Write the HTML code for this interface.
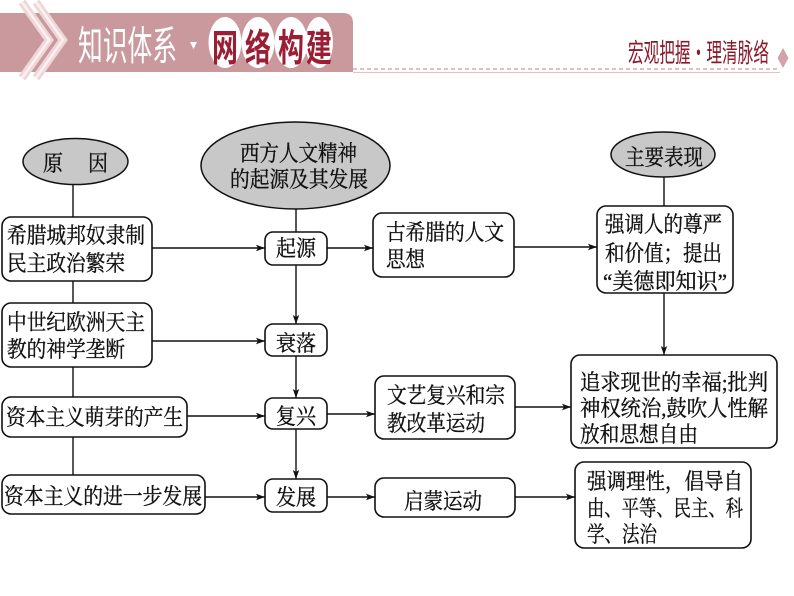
<!DOCTYPE html>
<html><head><meta charset="utf-8"><style>
html,body{margin:0;padding:0;background:#fff;}
svg{display:block;}
.t{font-family:"Liberation Serif","Noto Serif CJK SC",serif;font-size:22px;fill:#111;stroke:#111;stroke-width:0.35;}
</style></head><body>
<svg width="794" height="596" viewBox="0 0 794 596" xmlns="http://www.w3.org/2000/svg">
<defs>
<marker id="ar" markerWidth="10" markerHeight="8" refX="9" refY="4" orient="auto" markerUnits="userSpaceOnUse">
<path d="M0,0.8 L9,4 L0,7.2 L2,4 Z" fill="#111"/>
</marker>
</defs>
<!-- header -->
<path d="M0,13 H343 Q353,13 353,23 V72 H0 Z" fill="#c9999d"/>
<polyline points="22,2 49,40 22,78" fill="none" stroke="#efd6d8" stroke-width="8"/>
<polyline points="22,2 49,40 22,78" fill="none" stroke="#fbf0f0" stroke-width="2.5"/>
<polyline points="36,2 63,40 36,78" fill="none" stroke="#efd6d8" stroke-width="8"/>
<polyline points="36,2 63,40 36,78" fill="none" stroke="#fbf0f0" stroke-width="2.5"/>
<text transform="translate(78,60) scale(1,1.45)" font-family="'Noto Sans CJK SC',sans-serif" font-size="28" fill="#fff" textLength="99" lengthAdjust="spacingAndGlyphs">知识体系</text>
<polygon points="190,42 197,42 193.5,49" fill="#fff"/>
<ellipse cx="225" cy="42.5" rx="16.5" ry="25.5" fill="#fff"/>
<ellipse cx="258" cy="42.5" rx="16.5" ry="25.5" fill="#fff"/>
<ellipse cx="291" cy="42.5" rx="16.5" ry="25.5" fill="#fff"/>
<ellipse cx="319" cy="42.5" rx="14" ry="25.5" fill="#fff"/>
<g font-family="'Noto Sans CJK SC',sans-serif" font-size="26" font-weight="bold" fill="#9a1f35" text-anchor="middle">
<text transform="translate(225,61) scale(1,1.45)">网</text>
<text transform="translate(258,61) scale(1,1.45)">络</text>
<text transform="translate(291,61) scale(1,1.45)">构</text>
<text transform="translate(319,61) scale(1,1.45)">建</text>
</g>
<line x1="353" y1="69" x2="780" y2="69" stroke="#c9999d" stroke-width="1.3" stroke-dasharray="4 3"/>
<line x1="353" y1="72.5" x2="780" y2="72.5" stroke="#e2c3c5" stroke-width="1"/>
<polygon points="783,48 788.5,58 783,68 777.5,58" fill="#d4a3a7"/>
<text transform="translate(628,62) scale(1,1.45)" font-family="'Noto Sans CJK SC',sans-serif" font-size="18" fill="#8b1a2b" textLength="141" lengthAdjust="spacingAndGlyphs">宏观把握·理清脉络</text>

<!-- connectors -->
<g stroke="#111" stroke-width="1.4" fill="none">
<line x1="73" y1="184" x2="73" y2="475"/>
<line x1="296" y1="208" x2="296" y2="232"/>
<line x1="296" y1="265" x2="296" y2="324" marker-end="url(#ar)"/>
<line x1="296" y1="356" x2="296" y2="398" marker-end="url(#ar)"/>
<line x1="296" y1="429" x2="296" y2="479" marker-end="url(#ar)"/>
<line x1="664" y1="176" x2="664" y2="206"/>
<line x1="664" y1="293" x2="664" y2="355" marker-end="url(#ar)"/>
<line x1="152" y1="248" x2="265" y2="248" marker-end="url(#ar)"/>
<line x1="327" y1="248" x2="373" y2="248" marker-end="url(#ar)"/>
<line x1="514" y1="247" x2="597" y2="247" marker-end="url(#ar)"/>
<line x1="152" y1="341" x2="265" y2="341" marker-end="url(#ar)"/>
<line x1="187" y1="416" x2="265" y2="416" marker-end="url(#ar)"/>
<line x1="327" y1="414" x2="375" y2="414" marker-end="url(#ar)"/>
<line x1="515" y1="407" x2="571" y2="407" marker-end="url(#ar)"/>
<line x1="205" y1="497" x2="265" y2="497" marker-end="url(#ar)"/>
<line x1="327" y1="497" x2="375" y2="497" marker-end="url(#ar)"/>
<line x1="515" y1="497" x2="575" y2="497" marker-end="url(#ar)"/>
</g>

<!-- ellipses -->
<g stroke="#111" stroke-width="1.5" fill="#c8c8c8">
<ellipse cx="75.5" cy="161.5" rx="52.5" ry="23"/>
<ellipse cx="295.5" cy="165.5" rx="94.5" ry="43.5"/>
<ellipse cx="663" cy="154.5" rx="52" ry="22.5"/>
</g>

<!-- boxes -->
<g stroke="#111" stroke-width="1.6" fill="#fff">
<rect x="2" y="217" width="150" height="64" rx="9"/>
<rect x="2" y="303" width="150" height="64" rx="9"/>
<rect x="2" y="397" width="185" height="40" rx="9"/>
<rect x="2" y="475" width="203" height="39" rx="9"/>
<rect x="265" y="232" width="62" height="33" rx="8"/>
<rect x="265" y="324" width="62" height="32" rx="8"/>
<rect x="265" y="398" width="62" height="31" rx="8"/>
<rect x="265" y="479" width="62" height="33" rx="8"/>
<rect x="373" y="213" width="141" height="64" rx="9"/>
<rect x="375" y="376" width="140" height="63" rx="9"/>
<rect x="375" y="478" width="140" height="39" rx="9"/>
<rect x="597" y="206" width="136" height="87" rx="9"/>
<rect x="571" y="355" width="206" height="93" rx="9"/>
<rect x="575" y="462" width="176" height="86" rx="9"/>
</g>

<!-- text -->
<g class="t">
<text x="43" y="171" textLength="20" lengthAdjust="spacingAndGlyphs">原</text>
<text x="88" y="171" textLength="20" lengthAdjust="spacingAndGlyphs">因</text>
<text x="240" y="161" textLength="117" lengthAdjust="spacingAndGlyphs">西方人文精神</text>
<text x="230" y="187" textLength="138" lengthAdjust="spacingAndGlyphs">的起源及其发展</text>
<text x="625" y="165" textLength="78" lengthAdjust="spacingAndGlyphs">主要表现</text>

<text x="7" y="243" textLength="138" lengthAdjust="spacingAndGlyphs">希腊城邦奴隶制</text>
<text x="7" y="271" textLength="118" lengthAdjust="spacingAndGlyphs">民主政治繁荣</text>
<text x="7" y="330" textLength="138" lengthAdjust="spacingAndGlyphs">中世纪欧洲天主</text>
<text x="7" y="357" textLength="118" lengthAdjust="spacingAndGlyphs">教的神学垄断</text>
<text x="6" y="425" textLength="177" lengthAdjust="spacingAndGlyphs">资本主义萌芽的产生</text>
<text x="4" y="504" textLength="198" lengthAdjust="spacingAndGlyphs">资本主义的进一步发展</text>

<text x="276" y="256" textLength="40" lengthAdjust="spacingAndGlyphs">起源</text>
<text x="276" y="351" textLength="40" lengthAdjust="spacingAndGlyphs">衰落</text>
<text x="276" y="424" textLength="40" lengthAdjust="spacingAndGlyphs">复兴</text>
<text x="276" y="505" textLength="40" lengthAdjust="spacingAndGlyphs">发展</text>

<text x="386" y="240" textLength="118" lengthAdjust="spacingAndGlyphs">古希腊的人文</text>
<text x="386" y="267" textLength="39" lengthAdjust="spacingAndGlyphs">思想</text>
<text x="387" y="403" textLength="118" lengthAdjust="spacingAndGlyphs">文艺复兴和宗</text>
<text x="387" y="431" textLength="98" lengthAdjust="spacingAndGlyphs">教改革运动</text>
<text x="404" y="509" textLength="78" lengthAdjust="spacingAndGlyphs">启蒙运动</text>

<text x="605" y="232" textLength="117" lengthAdjust="spacingAndGlyphs">强调人的尊严</text>
<text x="605" y="261" textLength="117" lengthAdjust="spacingAndGlyphs">和价值；提出</text>
<text x="603" y="289" textLength="124" lengthAdjust="spacingAndGlyphs">“美德即知识”</text>

<text x="580" y="390" textLength="188" lengthAdjust="spacingAndGlyphs">追求现世的幸福;批判</text>
<text x="580" y="416" textLength="188" lengthAdjust="spacingAndGlyphs">神权统治,鼓吹人性解</text>
<text x="580" y="442" textLength="118" lengthAdjust="spacingAndGlyphs">放和思想自由</text>

<text x="587" y="489" textLength="156" lengthAdjust="spacingAndGlyphs">强调理性，倡导自</text>
<text x="587" y="516" textLength="156" lengthAdjust="spacingAndGlyphs">由、平等、民主、科</text>
<text x="587" y="542" textLength="70" lengthAdjust="spacingAndGlyphs">学、法治</text>
</g>
</svg>
</body></html>
